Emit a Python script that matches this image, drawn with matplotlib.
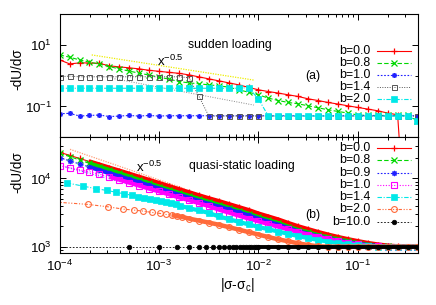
import numpy as np
import matplotlib
matplotlib.use("Agg")
import matplotlib.pyplot as plt
from matplotlib.ticker import LogLocator, NullFormatter, FixedLocator

plt.rcParams['font.family'] = ['Liberation Sans', 'DejaVu Sans']
plt.rcParams['mathtext.fontset'] = 'custom'
plt.rcParams['mathtext.rm'] = 'Liberation Sans'
plt.rcParams['mathtext.it'] = 'Liberation Sans:italic'
plt.rcParams['mathtext.default'] = 'regular'
plt.rcParams['font.size'] = 8.8

# ---------------- data ----------------
x_grid = [1.000e-4, 1.259e-4, 1.585e-4, 1.995e-4, 2.512e-4, 3.162e-4, 3.981e-4, 5.012e-4, 6.310e-4, 7.943e-4,
          1.000e-3, 1.259e-3, 1.585e-3, 1.995e-3, 2.512e-3, 3.162e-3, 3.981e-3, 5.012e-3, 6.310e-3, 7.943e-3,
          1.000e-2, 1.259e-2, 1.585e-2, 1.995e-2, 2.512e-2, 3.162e-2, 3.981e-2, 5.012e-2, 6.310e-2, 7.943e-2,
          1.000e-1, 1.259e-1, 1.585e-1, 1.995e-1, 2.512e-1, 3.162e-1, 3.981e-1]

# (a) sudden loading
sud_b00 = [3.24, 2.41, 2.59, 2.59, 2.50, 2.08, 1.93, 1.79, 1.66, 1.49, 1.38, 1.28, 1.19, 1.06, 0.914, 0.787,
           0.679, 0.585, 0.504, 0.418, 0.347, 0.305, 0.272, 0.239, 0.211, 0.177, 0.156, 0.135, 0.120, 0.105,
           0.0929, 0.0824, 0.0726, 0.0611, 0.0538, 1e-6, 1e-6]
sud_b08 = [4.71, 3.97, 3.24, 2.74, 2.36, 1.97, 1.66, 1.40, 1.21, 1.04, 0.893, 0.771, 0.644, 0.585, 0.543, 0.504,
           0.468, 0.425, 0.347, 0.292, 0.239, 0.187, 0.156, 0.135, 0.122, 0.105, 0.0908, 0.0782, 0.0689, 0.0611,
           0.0527, 0.0512, 0.0512, 0.0512, 0.0512, 0.0512, 0.0344]
sud_b10 = [0.058, 0.060, 0.049, 0.051, 0.053, 0.047, 0.049, 0.051, 0.049, 0.051, 0.049, 0.050, 0.050, 0.050,
           0.050, 0.050, 0.050, 0.050, 0.050, 0.050, 0.050, 0.050, 0.050, 0.050, 0.050, 0.050, 0.050, 0.050,
           0.050, 0.050, 0.050, 0.050, 0.050, 0.050, 0.050, 0.050, 0.050]
sud_b14 = [0.92, 0.97, 0.92, 0.92, 0.92, 0.92, 0.92, 0.92, 0.92, 0.92, 0.92, 0.92, 0.92, 0.855, 0.218, 0.049,
           0.049, 0.049, 0.049, 0.049, 0.049, 0.049, 0.049, 0.049, 0.049, 0.049, 0.049, 0.049, 0.049, 0.049,
           0.049, 0.049, 0.049, 0.049, 0.049, 0.049, 0.049]
sud_b20 = [0.39, 0.39, 0.39, 0.39, 0.39, 0.39, 0.39, 0.39, 0.39, 0.39, 0.39, 0.39, 0.39, 0.39, 0.39, 0.39,
           0.39, 0.39, 0.39, 0.41, 0.174, 0.049, 0.049, 0.049, 0.049, 0.049, 0.049, 0.049, 0.049, 0.049,
           0.049, 0.049, 0.049, 0.049, 0.049, 0.049, 0.0336]
sud_extra_x = [3.37e-4, 8.97e-3]
sud_extra_y = [0.82, 0.111]
sud_ref_x = [2.1e-4, 9.0e-3]
sud_ref_y = [4.7, 0.718]

# (b) quasi-static loading
qs_b00 = [24150, 21760, 19600, 17660, 15910, 14330, 12960, 11680, 10520, 9480, 8540, 7695, 6932, 6266, 5646,
          5104, 4645, 4200, 3797, 3432, 3051, 2758, 2493, 2216, 1983, 1800, 1637, 1500, 1384, 1285, 1202,
          1131, 1075, 1036, 1012, 1003, 1000]
qs_b08 = [23200, 20900, 18640, 16630, 14880, 13320, 11920, 10660, 9510, 8510, 7590, 6840, 6160, 5570, 5020,
          4540, 4130, 3730, 3370, 3050, 2710, 2450, 2220, 1970, 1760, 1625, 1480, 1370, 1277, 1198, 1131,
          1075, 1036, 1012, 1003, 1000, 1000]
qs_b09 = [20070, 18080, 16290, 14680, 13230, 11920, 10770, 9710, 8750, 7880, 7100, 6400, 5760, 5210, 4690,
          4240, 3860, 3510, 3180, 2880, 2560, 2320, 2100, 1870, 1680, 1536, 1416, 1312, 1230, 1158, 1101,
          1057, 1026, 1009, 1002, 1000, 1000]
qs_b10 = [15340, 14340, 13400, 12530, 11530, 10520, 9570, 8660, 7830, 7070, 6440, 5820, 5260, 4800, 4340,
          3930, 3490, 3160, 2850, 2580, 2350, 2140, 1960, 1790, 1637, 1505, 1393, 1294, 1210, 1138, 1082,
          1040, 1012, 1003, 1000, 1000, 1000]
qs_b14_x = [1.177e-4, 1.731e-4, 2.321e-4, 2.998e-4, 3.661e-4, 4.462e-4, 5.286e-4, 6.179e-4, 7.102e-4,
            8.111e-4, 9.24e-4, 1.047e-3, 1.166e-3, 1.322e-3, 1.472e-3, 1.630e-3,
            1.995e-3, 2.512e-3, 3.162e-3, 3.981e-3, 5.012e-3, 6.310e-3, 7.943e-3, 1.000e-2, 1.259e-2,
            1.585e-2, 1.995e-2, 2.512e-2, 3.162e-2, 3.981e-2, 5.012e-2, 6.310e-2, 7.943e-2, 1.000e-1,
            1.259e-1, 1.585e-1, 1.995e-1, 2.512e-1, 3.162e-1, 3.981e-1]
qs_b14 = [8600, 7700, 7070, 6660, 6288, 5940, 5680, 5370, 5190, 4970, 4800, 4650, 4450, 4300, 4160, 3970,
          3670, 3400, 3120, 2777, 2536, 2315, 2122, 1950, 1800, 1665, 1541, 1431, 1338, 1255, 1186, 1127,
          1079, 1044, 1019, 1003, 1000, 1000, 1000, 1000]
qs_b20_x = [6.7e-5, 1.931e-4, 3.075e-4, 4.36e-4, 5.63e-4, 6.94e-4, 8.42e-4, 1.024e-3, 1.166e-3, 1.341e-3,
            1.506e-3, 1.692e-3,
            1.995e-3, 2.512e-3, 3.162e-3, 3.981e-3, 5.012e-3, 6.310e-3, 7.943e-3, 1.000e-2, 1.259e-2,
            1.585e-2, 1.995e-2, 2.512e-2, 3.162e-2, 3.981e-2, 5.012e-2, 6.310e-2, 7.943e-2, 1.000e-1,
            1.259e-1, 1.585e-1, 1.995e-1, 2.512e-1, 3.162e-1, 3.981e-1]
qs_b20 = [4650, 4160, 3836, 3549, 3432, 3319, 3180, 3072, 2971, 2902, 2806, 2740,
          2580, 2411, 2254, 2100, 1937, 1781, 1637, 1505, 1384, 1281, 1198, 1120, 1057, 1016,
          1000, 1000, 1000, 1000, 1000, 1000, 1000, 1000, 1000, 1000]
qs_b100_x = [1e-5, 5e-4, 1e-3, 1.5e-3, 2e-3, 2.5e-3, 3e-3, 3.5e-3, 4e-3, 4.5e-3, 5e-3, 5.5e-3, 6e-3, 6.5e-3,
             7e-3, 7.5e-3, 8e-3, 8.5e-3, 9e-3, 9.5e-3, 1e-2, 1.259e-2, 1.585e-2, 1.995e-2, 2.512e-2,
             3.162e-2, 3.981e-2, 5.012e-2, 6.310e-2, 7.943e-2, 1.000e-1, 1.259e-1, 1.585e-1, 1.995e-1,
             2.512e-1, 3.162e-1, 3.981e-1]
qs_b100 = [1000, 1000, 1000, 1000, 1000, 1000, 1000, 1000, 1000, 1000, 1000, 1000, 1000, 1000, 1000, 1000,
           1000, 1000, 1000, 1000, 1000, 1000, 1000, 1000, 1000, 1000, 1000, 1000, 1000, 1000, 1000, 1000,
           1000, 1000, 1000, 1000, 1000]
qs_ref_x = [1.27e-4, 1.8e-3]
qs_ref_y = [26690, 7090]
qs_extra_x = [1.08e-4, 1.76e-3]
qs_extra_y = [15040, 5064]

labels_a = ['b=0.0', 'b=0.8', 'b=1.0', 'b=1.4', 'b=2.0']
labels_b = ['b=0.0', 'b=0.8', 'b=0.9', 'b=1.0', 'b=1.4', 'b=2.0', 'b=10.0']
x_tick_vals = [1e-4, 1e-3, 1e-2, 1e-1]
x_tick_labels = ['$10^{-4}$', '$10^{-3}$', '$10^{-2}$', '$10^{-1}$']
ya_tick_vals = [1e-1, 1e1]
ya_tick_labels = ['$10^{-1}$', '$10^{1}$']
yb_tick_vals = [1e3, 1e4]
yb_tick_labels = ['$10^{3}$', '$10^{4}$']

# ---------------- styles ----------------
RED = '#ff0000'
GREEN = '#00d800'
BLUE = '#2020ff'
MAG = '#ff00ff'
CYAN = '#00e8e8'
ORANGE = '#ff6a3a'
GRAY = '#555555'
STAR = (8, 2, 0)

style_a = [
    dict(color=RED, ls='-', marker='+', ms=5, mew=0.9, lw=0.8),
    dict(color=GREEN, ls=(0, (4, 2)), marker='x', ms=4, mew=0.9, lw=0.8),
    dict(color=BLUE, ls=(0, (1.5, 1.5)), marker=STAR, ms=3.6, mew=0.8, lw=0.8),
    dict(color=GRAY, ls=(0, (1, 1.5)), marker='s', ms=3.6, mew=0.7, lw=0.7, mfc='none'),
    dict(color=CYAN, ls=(0, (4, 1.5, 1, 1.5)), marker='s', ms=3.8, mew=0.5, lw=0.8),
]
style_b = [
    dict(color=RED, ls='-', marker='+', ms=5, mew=0.9, lw=0.8),
    dict(color=GREEN, ls=(0, (4, 2)), marker='x', ms=4, mew=0.9, lw=0.8),
    dict(color=BLUE, ls=(0, (1.5, 1.5)), marker=STAR, ms=3.8, mew=0.8, lw=0.8),
    dict(color=MAG, ls=(0, (1, 1.5)), marker='s', ms=3.8, mew=0.8, lw=0.8, mfc='none'),
    dict(color=CYAN, ls=(0, (4, 1.5, 1, 1.5)), marker='s', ms=3.8, mew=0.5, lw=0.8),
    dict(color=ORANGE, ls=(0, (3, 1.5, 1, 1.5, 1, 1.5)), marker='o', ms=4.2, mew=0.8, lw=0.8, mfc='none'),
    dict(color='black', ls=(0, (2, 2)), marker='o', ms=3.3, mew=0.5, lw=0.6),
]

fig = plt.figure(figsize=(4.36, 3.05), dpi=100)
ax1 = fig.add_axes([0.1369, 0.5498, 0.8211, 0.4043])
ax2 = fig.add_axes([0.1369, 0.1695, 0.8211, 0.3803])

# ---------------- panel (a) ----------------
ax1.plot(sud_ref_x, sud_ref_y, color='#eeee00', ls=(0, (1, 1)), lw=0.9)
ax1.plot(sud_extra_x, sud_extra_y, color='#888888', ls=(0, (1, 1.5)), lw=0.7)
series_a = [sud_b00, sud_b08, sud_b10, sud_b14, sud_b20]
for ys, st in zip(series_a, style_a):
    ax1.plot(x_grid, ys, **st)

# ---------------- panel (b) ----------------
ax2.plot(qs_ref_x, qs_ref_y, color='#ffa07a', ls=(0, (1, 1)), lw=0.9)
ax2.plot(qs_extra_x, qs_extra_y, color='#6060ff', ls=(0, (1, 1.5)), lw=0.8)
series_b = [(x_grid, qs_b00, 3), (x_grid, qs_b08, 3), (x_grid, qs_b09, 3), (x_grid, qs_b10, 5),
            (qs_b14_x, qs_b14, 11), (qs_b20_x, qs_b20, 9), (qs_b100_x, qs_b100, 20)]
band_w = [3.2, 3.0, 3.0, 3.0, 3.0, 3.2, 2.8]
for (xs, ys, i0), st, bw in zip(series_b, style_b, band_w):
    ax2.plot(xs[i0:], ys[i0:], color=st['color'], lw=bw, solid_capstyle='butt')
    ax2.plot(xs, ys, **st)

# ---------------- axes formatting ----------------
for ax in (ax1, ax2):
    ax.set_xscale('log')
    ax.set_yscale('log')
    ax.set_xlim(1e-4, 0.4)
    ax.set_xticks(x_tick_vals)
    ax.xaxis.set_minor_locator(LogLocator(base=10, subs=np.arange(2, 10), numticks=30))
    ax.xaxis.set_minor_formatter(NullFormatter())
    ax.tick_params(which='both', direction='in', top=True, right=True, width=0.7, labelsize=9.6)
    ax.tick_params(which='major', length=4)
    ax.tick_params(which='minor', length=2.2)
    ax.tick_params(axis='y', which='major', pad=5.5)
    ax.tick_params(axis='x', which='major', pad=4.0)
    for s in ax.spines.values():
        s.set_linewidth(0.8)

ax1.set_ylim(0.01, 100)
ax1.set_yticks(ya_tick_vals)
ax1.set_yticklabels(ya_tick_labels)
ax1.yaxis.set_minor_locator(FixedLocator([1.0]))
ax1.yaxis.set_minor_formatter(NullFormatter())
ax1.tick_params(labelbottom=False)

ax2.set_ylim(800, 40000)
ax2.set_yticks(yb_tick_vals)
ax2.set_yticklabels(yb_tick_labels)
ax2.yaxis.set_minor_locator(LogLocator(base=10, subs=np.arange(2, 10), numticks=30))
ax2.yaxis.set_minor_formatter(NullFormatter())
ax2.set_xticklabels(x_tick_labels)

ax1.set_ylabel('-dU/dσ', fontsize=9.8)
ax1.yaxis.set_label_coords(-0.100, 0.55)
ax2.set_ylabel('-dU/dσ', fontsize=9.8)
ax2.yaxis.set_label_coords(-0.100, 0.703)
ax2.set_xlabel('|σ-σ$_c$|', fontsize=9.8)
ax2.xaxis.set_label_coords(0.495, -0.195)

ax1.text(0.358, 0.749, 'sudden loading', transform=ax1.transAxes, ha='left', va='center')
ax1.text(0.272, 0.578, 'x$^{-0.5}$', transform=ax1.transAxes, ha='left', va='baseline', fontsize=9.5)
ax1.text(0.708, 0.497, '(a)', transform=ax1.transAxes, ha='center', va='center')
ax2.text(0.361, 0.753, 'quasi-static loading', transform=ax2.transAxes, ha='left', va='center')
ax2.text(0.213, 0.701, 'x$^{-0.5}$', transform=ax2.transAxes, ha='left', va='baseline', fontsize=9.5)
ax2.text(0.708, 0.330, '(b)', transform=ax2.transAxes, ha='center', va='center')

# ---------------- manual legends ----------------
def draw_legend(ax, labels, styles, ys):
    for lab, st, y in zip(labels, styles, ys):
        ax.text(0.867, y, lab, transform=ax.transAxes, ha='right', va='center', fontsize=8.9)
        ax.plot([0.886, 0.981], [y, y], transform=ax.transAxes, color=st['color'], ls=st['ls'],
                lw=st['lw'], clip_on=False)
        ax.plot([0.934], [y], transform=ax.transAxes, color=st['color'], ls='none', marker=st['marker'],
                ms=st['ms'], mew=st['mew'], mfc=st.get('mfc', st['color']), clip_on=False)

draw_legend(ax1, labels_a, style_a, [0.700, 0.602, 0.504, 0.406, 0.308])
draw_legend(ax2, labels_b, style_b, [0.908, 0.802, 0.696, 0.590, 0.484, 0.378, 0.272])

fig.savefig('out.png', dpi=100)
